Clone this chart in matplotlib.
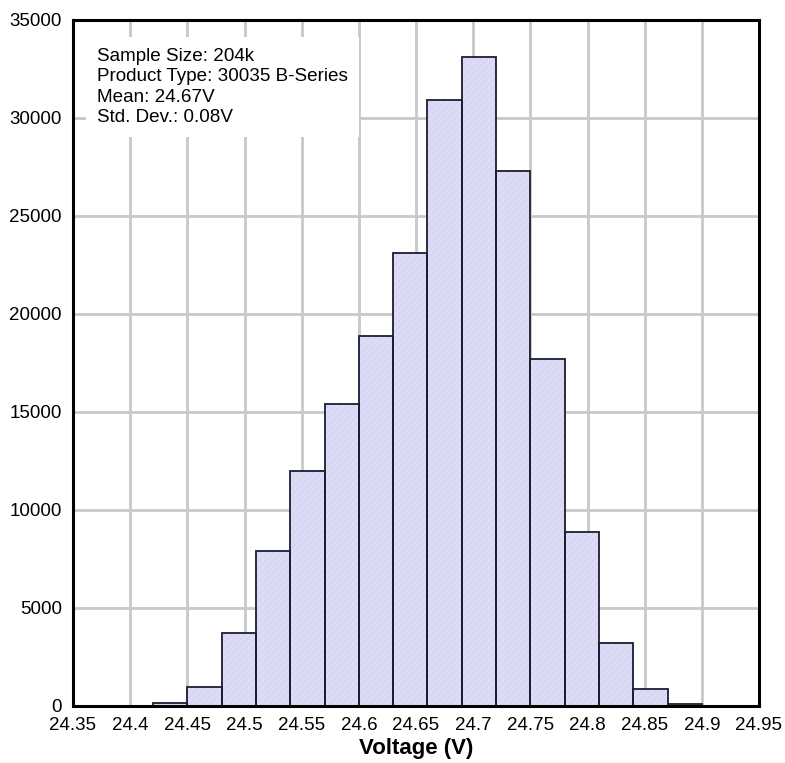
import numpy as np
import matplotlib.pyplot as plt

plt.rcParams['font.family'] = ['Liberation Sans', 'DejaVu Sans']
plt.rcParams['hatch.linewidth'] = 0.5

# histogram bins (V) and counts
bin_edges = [24.42, 24.45, 24.48, 24.51, 24.54, 24.57, 24.60, 24.63, 24.66,
             24.69, 24.72, 24.75, 24.78, 24.81, 24.84, 24.87, 24.90]
counts = [150, 950, 3700, 7900, 12000, 15400, 18900, 23100, 30900,
          33100, 27300, 17700, 8900, 3200, 850, 80]
x_ticks = [24.35, 24.4, 24.45, 24.5, 24.55, 24.6, 24.65, 24.7, 24.75,
           24.8, 24.85, 24.9, 24.95]
y_ticks = [0, 5000, 10000, 15000, 20000, 25000, 30000, 35000]
info_lines = ["Sample Size: 204k", "Product Type: 30035 B-Series",
              "Mean: 24.67V", "Std. Dev.: 0.08V"]

fig = plt.figure(figsize=(7.85, 7.63), dpi=100)
ax = fig.add_axes([73 / 785, 1 - 706 / 763, (759 - 73) / 785, (706 - 20) / 763])

left = np.array(bin_edges[:-1])
width = np.diff(bin_edges)
# fill + faint hatch, then outline on top
ax.bar(left, counts, width=width, align='edge', color='#dddcf7',
       edgecolor='#cfcfec', hatch='/////', linewidth=0, zorder=2)
ax.bar(left, counts, width=width, align='edge', facecolor='none',
       edgecolor='#1c1c33', linewidth=1.3, zorder=3)

ax.set_xlim(24.35, 24.95)
ax.set_ylim(0, 35000)
ax.set_xticks(x_ticks)
ax.set_xticklabels([f"{t:g}" for t in x_ticks])
ax.set_yticks(y_ticks)
ax.tick_params(length=0, labelsize=13.5, pad=8)
ax.grid(True, color='#c8c8c8', linewidth=2)
ax.set_axisbelow(True)
for s in ax.spines.values():
    s.set_linewidth(2.2)
    s.set_color('black')
    s.set_zorder(5)

ax.text(0.035, 0.959, "\n".join(info_lines), transform=ax.transAxes,
        fontsize=13.6, va='top', ha='left', linespacing=1.25, zorder=4,
        bbox=dict(facecolor='white', edgecolor='none', pad=8))

ax.set_xlabel("Voltage (V)", fontsize=16, fontweight='bold', labelpad=3)

fig.savefig("out.png", dpi=100)
